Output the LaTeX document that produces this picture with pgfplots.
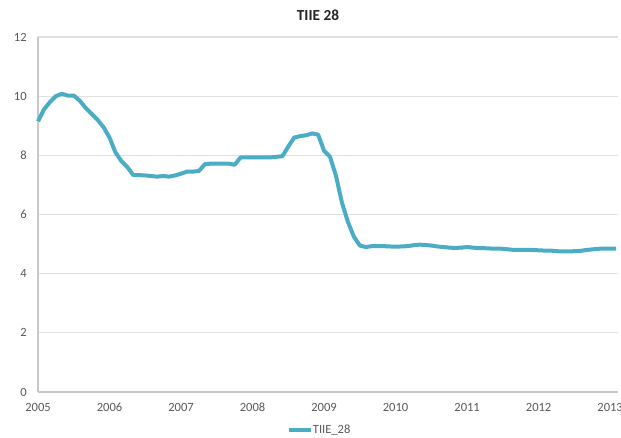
\documentclass[border=0pt]{standalone}
\usepackage{pgfplots}
\pgfplotsset{compat=1.18}
\usepackage{fontspec}
\setmainfont{Carlito}
\definecolor{tiie}{HTML}{4BACC6}
\definecolor{lbl}{HTML}{595959}
\definecolor{gridc}{HTML}{E0E0E0}
\definecolor{axc}{HTML}{C8C8C8}
\begin{document}
\begin{tikzpicture}
% picture box = 621 x 438 px at 0.75pt per px
\path[use as bounding box] (0pt,0pt) rectangle (465.75pt,328.5pt);
\begin{axis}[
    at={(28.5pt,34.5pt)}, anchor=south west,
    scale only axis,
    width=435pt, height=266.25pt,
    xmin=2005, xmax=2013.11,
    ymin=0, ymax=12,
    xtick={2005,2006,...,2013},
    ytick={0,2,...,12},
    xticklabel style={/pgf/number format/1000 sep={}, yshift=-5pt},
    yticklabel style={xshift=-5pt},
    /pgf/number format/assume math mode=true,
    ticklabel style={font=\fontsize{9.4}{10}\selectfont, text=lbl},
    axis x line*=bottom, axis y line*=left,
    axis line style={draw=axc, line width=0.8pt},
    major tick length=0pt,
    ymajorgrids,
    grid style={draw=gridc, line width=0.8pt},
    clip=false,
]
\addplot[color=tiie, line width=3pt, line join=round] coordinates {
(2005.000,9.15)(2005.083,9.55)(2005.167,9.80)(2005.250,10.00)(2005.333,10.08)(2005.417,10.02)
(2005.500,10.02)(2005.583,9.85)(2005.667,9.60)(2005.750,9.40)(2005.833,9.20)(2005.917,8.95)
(2006.000,8.60)(2006.083,8.10)(2006.167,7.80)(2006.250,7.60)(2006.333,7.33)(2006.417,7.33)
(2006.500,7.32)(2006.583,7.30)(2006.667,7.28)(2006.750,7.30)(2006.833,7.28)(2006.917,7.32)
(2007.000,7.38)(2007.083,7.45)(2007.167,7.45)(2007.250,7.47)(2007.333,7.70)(2007.417,7.72)
(2007.500,7.72)(2007.583,7.72)(2007.667,7.72)(2007.750,7.68)(2007.833,7.93)(2007.917,7.93)
(2008.000,7.93)(2008.083,7.93)(2008.167,7.93)(2008.250,7.93)(2008.333,7.95)(2008.417,7.97)
(2008.500,8.30)(2008.583,8.60)(2008.667,8.65)(2008.750,8.68)(2008.833,8.74)(2008.917,8.70)
(2009.000,8.15)(2009.083,7.95)(2009.167,7.30)(2009.250,6.40)(2009.333,5.75)(2009.417,5.25)
(2009.500,4.95)(2009.583,4.90)(2009.667,4.93)(2009.750,4.93)(2009.833,4.93)(2009.917,4.92)
(2010.000,4.91)(2010.083,4.92)(2010.167,4.93)(2010.250,4.96)(2010.333,4.98)(2010.417,4.97)
(2010.500,4.95)(2010.583,4.92)(2010.667,4.90)(2010.750,4.88)(2010.833,4.87)(2010.917,4.88)
(2011.000,4.90)(2011.083,4.88)(2011.167,4.86)(2011.250,4.86)(2011.333,4.85)(2011.417,4.85)
(2011.500,4.84)(2011.583,4.82)(2011.667,4.80)(2011.750,4.80)(2011.833,4.80)(2011.917,4.80)
(2012.000,4.79)(2012.083,4.78)(2012.167,4.78)(2012.250,4.76)(2012.333,4.75)(2012.417,4.75)
(2012.500,4.76)(2012.583,4.77)(2012.667,4.80)(2012.750,4.82)(2012.833,4.84)(2012.917,4.85)
(2013.000,4.85)(2013.083,4.85)
};
\end{axis}
\node[font=\bfseries\fontsize{11.5}{13}\selectfont, text=black!85] at (238.5pt,317.25pt) {TIIE 28};
\draw[tiie, line width=3pt] (216.75pt,6pt) -- (233.25pt,6pt);
\node[anchor=west, inner sep=1pt, font=\fontsize{9.4}{10}\selectfont, text=lbl] at (233.5pt,6pt) {TIIE\_28};
\end{tikzpicture}
\end{document}
